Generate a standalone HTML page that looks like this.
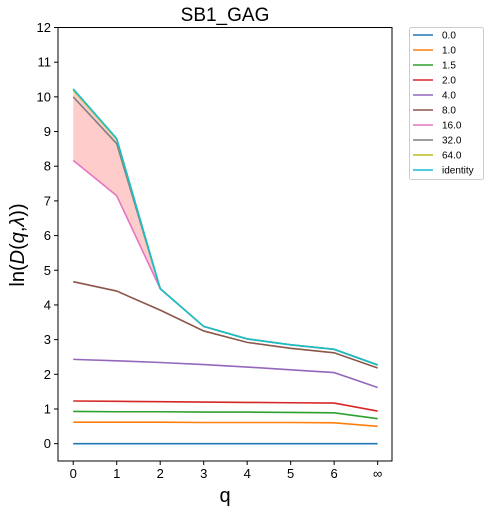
<!DOCTYPE html>
<html><head><meta charset="utf-8"><style>
body{margin:0;background:#fff;}
svg{display:block;font-family:"Liberation Sans","DejaVu Sans",sans-serif;}
</style></head><body>
<svg id="chart" width="490" height="512" viewBox="0 0 490 512"></svg>
<script>
const xTicks=["0","1","2","3","4","5","6","∞"];
const yTicks=[0,1,2,3,4,5,6,7,8,9,10,11,12];
const seriesNames=["0.0","1.0","1.5","2.0","4.0","8.0","16.0","32.0","64.0","identity"];
const colors=["#1f77b4","#ff7f0e","#2ca02c","#d62728","#9467bd","#8c564b","#e377c2","#7f7f7f","#bcbd22","#17becf"];
const s00=[0,0,0,0,0,0,0,0];
const s10=[0.62,0.62,0.62,0.61,0.61,0.61,0.60,0.50];
const s15=[0.93,0.92,0.92,0.91,0.91,0.90,0.89,0.72];
const s20=[1.23,1.22,1.21,1.20,1.19,1.18,1.17,0.94];
const s40=[2.43,2.39,2.34,2.28,2.21,2.13,2.05,1.62];
const s80=[4.67,4.40,3.85,3.25,2.92,2.75,2.62,2.18];
const s160=[8.17,7.15,4.47,3.38,3.02,2.85,2.72,2.27];
const s320=[10.0,8.65,4.47,3.38,3.02,2.85,2.72,2.27];
const s640=[10.2,8.78,4.47,3.38,3.02,2.85,2.72,2.27];
const sId=[10.23,8.8,4.47,3.38,3.02,2.85,2.72,2.27];
const allSeries=[s00,s10,s15,s20,s40,s80,s160,s320,s640,sId];

const L=58,R=392,T=27.5,B=461;
const xmin=-0.35,xmax=7.33,ymin=-0.5,ymax=12;
const X=i=>L+(i-xmin)/(xmax-xmin)*(R-L);
const Y=v=>B-(v-ymin)/(ymax-ymin)*(B-T);
const svg=document.getElementById('chart');
const NS="http://www.w3.org/2000/svg";
function mk(tag,attrs,parent){const e=document.createElementNS(NS,tag);for(const k in attrs)e.setAttribute(k,attrs[k]);(parent||svg).appendChild(e);return e;}

// fill
let pts=[];
sId.forEach((v,i)=>pts.push(X(i)+","+Y(v)));
for(let i=s160.length-1;i>=0;i--)pts.push(X(i)+","+Y(s160[i]));
const fill=mk('polygon',{points:pts.join(" "),fill:"#ff0000","fill-opacity":"0.2",stroke:"none"});



allSeries.forEach((s,k)=>{
  const p=mk('polyline',{points:s.map((v,i)=>X(i)+","+Y(v)).join(" "),fill:"none",stroke:colors[k],"stroke-width":"1.6"});
  
  
});

const frame=mk('rect',{x:L,y:T,width:R-L,height:B-T,fill:"none",stroke:"#000","stroke-width":"1"});



xTicks.forEach((t,i)=>{
  mk('line',{x1:X(i),x2:X(i),y1:B,y2:B+4,stroke:"#000"});
  const tx=mk('text',{x:X(i),y:B+17,"text-anchor":"middle","font-size":"13"});
  tx.textContent=t;
  
  
});
yTicks.forEach(v=>{
  mk('line',{x1:L-4,x2:L,y1:Y(v),y2:Y(v),stroke:"#000"});
  const tx=mk('text',{x:L-7,y:Y(v)+4.5,"text-anchor":"end","font-size":"13"});
  tx.textContent=v;
  
  
});
</script>
<svg style="position:absolute;left:0;top:0" width="490" height="512">
<text x="225" y="21" text-anchor="middle" font-size="19" font-family="Liberation Sans, sans-serif">SB1_GAG</text>
<text x="225" y="502" text-anchor="middle" font-size="20" font-family="Liberation Sans, sans-serif">q</text>
<text transform="translate(24,245) rotate(-90)" text-anchor="middle" font-size="20" font-family="Liberation Sans, DejaVu Sans, sans-serif">ln(<tspan font-style="italic">D</tspan>(<tspan font-style="italic">q</tspan>,<tspan font-style="italic">λ</tspan>))</text>
<g font-family="Liberation Sans, sans-serif" font-size="10">
<rect x="409.5" y="27.5" width="74" height="152" rx="2" fill="#fff" stroke="#ccc"/>
<g><line x1="413" x2="433" y1="35" y2="35" stroke="#1f77b4" stroke-width="1.6"/><text x="442" y="38.5">0.0</text></g>
<g><line x1="413" x2="433" y1="50" y2="50" stroke="#ff7f0e" stroke-width="1.6"/><text x="442" y="53.5">1.0</text></g>
<g><line x1="413" x2="433" y1="65" y2="65" stroke="#2ca02c" stroke-width="1.6"/><text x="442" y="68.5">1.5</text></g>
<g><line x1="413" x2="433" y1="80" y2="80" stroke="#d62728" stroke-width="1.6"/><text x="442" y="83.5">2.0</text></g>
<g><line x1="413" x2="433" y1="95" y2="95" stroke="#9467bd" stroke-width="1.6"/><text x="442" y="98.5">4.0</text></g>
<g><line x1="413" x2="433" y1="110" y2="110" stroke="#8c564b" stroke-width="1.6"/><text x="442" y="113.5">8.0</text></g>
<g><line x1="413" x2="433" y1="125" y2="125" stroke="#e377c2" stroke-width="1.6"/><text x="442" y="128.5">16.0</text></g>
<g><line x1="413" x2="433" y1="140" y2="140" stroke="#7f7f7f" stroke-width="1.6"/><text x="442" y="143.5">32.0</text></g>
<g><line x1="413" x2="433" y1="155" y2="155" stroke="#bcbd22" stroke-width="1.6"/><text x="442" y="158.5">64.0</text></g>
<g><line x1="413" x2="433" y1="170" y2="170" stroke="#17becf" stroke-width="1.6"/><text x="442" y="173.5">identity</text></g>
</g>
</svg>
</body></html>
